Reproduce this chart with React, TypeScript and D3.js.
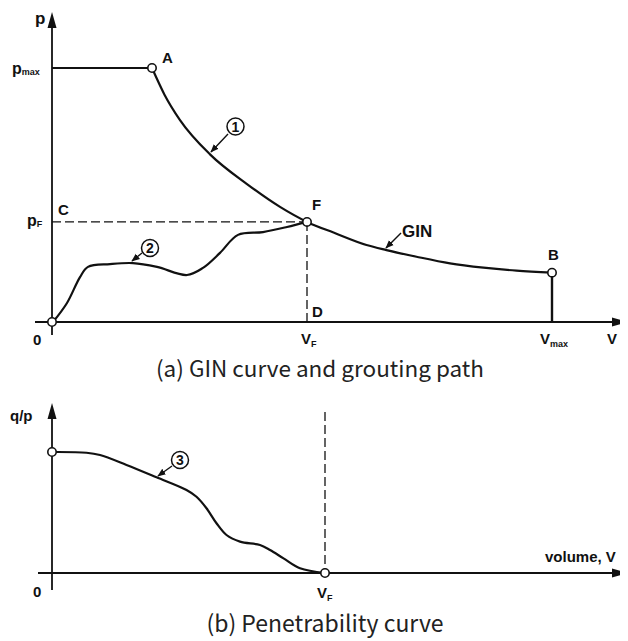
import React from "react";
import * as d3 from "d3";

// ---- (a) GIN curve and grouting path ----
// volume V (0..100 = Vmax), pressure p (0..100 = pmax)
const plateau: [number, number][] = [
  [0, 100],
  [20, 100],
];
const ginCurve: [number, number][] = [
  [20, 100],
  [22.5, 89.5],
  [25.6, 79.5],
  [31.6, 66],
  [39, 54.3],
  [45.6, 45.3],
  [51, 39.4],
  [56.3, 35.2],
  [62.9, 30.3],
  [66.9, 28.3],
  [72.9, 25.7],
  [79.6, 23.1],
  [86.3, 21.4],
  [92.9, 20.2],
  [100, 19.4],
];
const groutPath: [number, number][] = [
  [0.2, 0],
  [3, 7.5],
  [5.6, 17.7],
  [7.2, 21.7],
  [11.6, 22.8],
  [16.2, 23.2],
  [21, 21.7],
  [27, 18.5],
  [30.2, 21.3],
  [33.6, 27.2],
  [37.2, 34.3],
  [42.2, 35.4],
  [47, 37.4],
  [51, 39.4],
];
const pointA: [number, number] = [20, 100];
const pointF: [number, number] = [51, 39.4];
const pointB: [number, number] = [100, 19.4];

// ---- (b) Penetrability curve ----
// volume V, q/p (0..100 = initial value)
const vfBottom = 54.6;
const penetrability: [number, number][] = [
  [0.26, 100],
  [6.9, 99.4],
  [9.6, 97.5],
  [14.9, 89.3],
  [20.9, 79.1],
  [26.9, 68.6],
  [28.9, 63],
  [30.9, 53.5],
  [32.9, 41.1],
  [34.9, 31.4],
  [37.6, 25.9],
  [41.6, 23.1],
  [43.6, 19],
  [46.3, 12.1],
  [49.6, 3.9],
  [54.6, 0],
];

const captionA = "(a) GIN curve and grouting path";
const captionB = "(b) Penetrability curve";

const INK = "#111";
const LABEL_FONT = "'Liberation Sans', Arial, sans-serif";
const CAPTION_FONT = "'Noto Sans CJK KR', 'Noto Sans', sans-serif";

export default function App() {
  const x = d3.scaleLinear().domain([0, 100]).range([52, 552]);
  const yTop = d3.scaleLinear().domain([0, 100]).range([322, 68]);
  const yBot = d3.scaleLinear().domain([0, 100]).range([573, 452]);

  const lineTop = d3
    .line<[number, number]>()
    .x((d) => x(d[0]))
    .y((d) => yTop(d[1]))
    .curve(d3.curveCatmullRom.alpha(0.5));
  const lineGin = d3
    .line<[number, number]>()
    .x((d) => x(d[0]))
    .y((d) => yTop(d[1]))
    .curve(d3.curveMonotoneX);
  const lineTopLinear = d3
    .line<[number, number]>()
    .x((d) => x(d[0]))
    .y((d) => yTop(d[1]));
  const lineBot = d3
    .line<[number, number]>()
    .x((d) => x(d[0]))
    .y((d) => yBot(d[1]))
    .curve(d3.curveCatmullRom.alpha(0.5));

  const x0 = x(0);
  const yAxisTop = yTop(0);
  const yAxisBot = yBot(0);

  const lbl = {
    fontFamily: LABEL_FONT,
    fontWeight: 700 as const,
    fontSize: 15,
    fill: INK,
  };

  const circ = (cx: number, cy: number, key: string) => (
    <circle key={key} cx={cx} cy={cy} r={4.2} fill="#fff" stroke={INK} strokeWidth={1.6} />
  );

  const badge = (cx: number, cy: number, t: string, key: string) => (
    <g key={key}>
      <circle cx={cx} cy={cy} r={8.5} fill="#fff" stroke={INK} strokeWidth={1.5} />
      <text x={cx} y={cy + 5} textAnchor="middle" {...lbl} fontSize={14}>
        {t}
      </text>
    </g>
  );

  const pointer = (x1: number, y1: number, x2: number, y2: number, key: string) => (
    <line key={key} x1={x1} y1={y1} x2={x2} y2={y2} stroke={INK} strokeWidth={1.4} markerEnd="url(#tip)" />
  );

  return (
    <svg width={628} height={641} style={{ display: "block", margin: "-8px 0 0 -8px" }} viewBox="0 0 628 641">
      <defs>
        <marker id="tip" viewBox="0 0 10 10" refX={9} refY={5} markerWidth={6} markerHeight={6} orient="auto">
          <path d="M0,1 L10,5 L0,9 Z" fill={INK} />
        </marker>
      </defs>
      <g>
        {/* (a) axes */}
        <line x1={x0} y1={335} x2={x0} y2={26} stroke={INK} strokeWidth={1.8} />
        <path d={`M${x0},12 L${x0 - 4.5},28 L${x0 + 4.5},28 Z`} fill={INK} />
        <line x1={35} y1={yAxisTop} x2={614} y2={yAxisTop} stroke={INK} strokeWidth={1.8} />
        <path d={`M628,${yAxisTop} L612,${yAxisTop - 4.5} L612,${yAxisTop + 4.5} Z`} fill={INK} />

        {/* (a) guide lines to F */}
        <line x1={x0} y1={yTop(pointF[1])} x2={x(pointF[0])} y2={yTop(pointF[1])} stroke={INK} strokeWidth={1.3} strokeDasharray="9 4" />
        <line x1={x(pointF[0])} y1={yTop(pointF[1])} x2={x(pointF[0])} y2={yAxisTop} stroke={INK} strokeWidth={1.3} strokeDasharray="9 4" />

        {/* (a) curves */}
        <path d={lineTopLinear(plateau) ?? ""} fill="none" stroke={INK} strokeWidth={2.2} />
        <path d={lineGin(ginCurve) ?? ""} fill="none" stroke={INK} strokeWidth={2.2} />
        <path d={lineTop(groutPath) ?? ""} fill="none" stroke={INK} strokeWidth={2.2} />
        <line x1={x(pointB[0])} y1={yTop(pointB[1])} x2={x(pointB[0])} y2={yAxisTop} stroke={INK} strokeWidth={2.4} />

        {circ(x0, yAxisTop, "o")}
        {circ(x(pointA[0]), yTop(pointA[1]), "a")}
        {circ(x(pointF[0]), yTop(pointF[1]), "f")}
        {circ(x(pointB[0]), yTop(pointB[1]), "b")}

        {/* (a) callouts */}
        {badge(235.5, 126.5, "1", "b1")}
        {pointer(228, 134, 211, 152, "p1")}
        {badge(150, 248, "2", "b2")}
        {pointer(142, 253, 132, 261, "p2")}
        <text x={402} y={237} {...lbl} fontSize={17}>GIN</text>
        {pointer(401, 233, 386, 248, "pg")}

        {/* (a) labels */}
        <text x={35} y={24} {...lbl} fontSize={17}>p</text>
        <text x={12} y={74} {...lbl} fontSize={16}>p<tspan fontSize={9} dy={1}>max</tspan></text>
        <text x={162} y={63} {...lbl}>A</text>
        <text x={58} y={215} {...lbl}>C</text>
        <text x={27} y={226} {...lbl} fontSize={16}>p<tspan fontSize={9} dy={1}>F</tspan></text>
        <text x={312} y={210} {...lbl}>F</text>
        <text x={312} y={317} {...lbl}>D</text>
        <text x={548} y={260} {...lbl}>B</text>
        <text x={33} y={345} {...lbl}>0</text>
        <text x={301} y={344} {...lbl}>V<tspan fontSize={9} dy={3}>F</tspan></text>
        <text x={540} y={344} {...lbl}>V<tspan fontSize={9} dy={3}>max</tspan></text>
        <text x={607} y={344} {...lbl}>V</text>

        <text x={320} y={377} textAnchor="middle" fontFamily={CAPTION_FONT} fontSize={22.5} fill="#222">{captionA}</text>

        {/* (b) axes */}
        <line x1={x0} y1={590} x2={x0} y2={418} stroke={INK} strokeWidth={1.8} />
        <path d={`M${x0},403 L${x0 - 4.5},419 L${x0 + 4.5},419 Z`} fill={INK} />
        <line x1={38} y1={yAxisBot} x2={614} y2={yAxisBot} stroke={INK} strokeWidth={1.8} />
        <path d={`M628,${yAxisBot} L612,${yAxisBot - 4.5} L612,${yAxisBot + 4.5} Z`} fill={INK} />
        <line x1={x(vfBottom)} y1={412} x2={x(vfBottom)} y2={yAxisBot} stroke={INK} strokeWidth={1.3} strokeDasharray="9 4" />

        <path d={lineBot(penetrability) ?? ""} fill="none" stroke={INK} strokeWidth={2.2} />
        {circ(x0, yBot(100), "q0")}
        {circ(x(vfBottom), yAxisBot, "qf")}

        {badge(180, 460, "3", "b3")}
        {pointer(172, 466, 158, 476, "p3")}

        <text x={10} y={421} {...lbl}>q/p</text>
        <text x={33} y={597} {...lbl}>0</text>
        <text x={317} y={598} {...lbl}>V<tspan fontSize={9} dy={3}>F</tspan></text>
        <text x={545} y={562} {...lbl}>volume, V</text>

        <text x={325} y={632} textAnchor="middle" fontFamily={CAPTION_FONT} fontSize={23} fill="#222">{captionB}</text>
      </g>
    </svg>
  );
}
